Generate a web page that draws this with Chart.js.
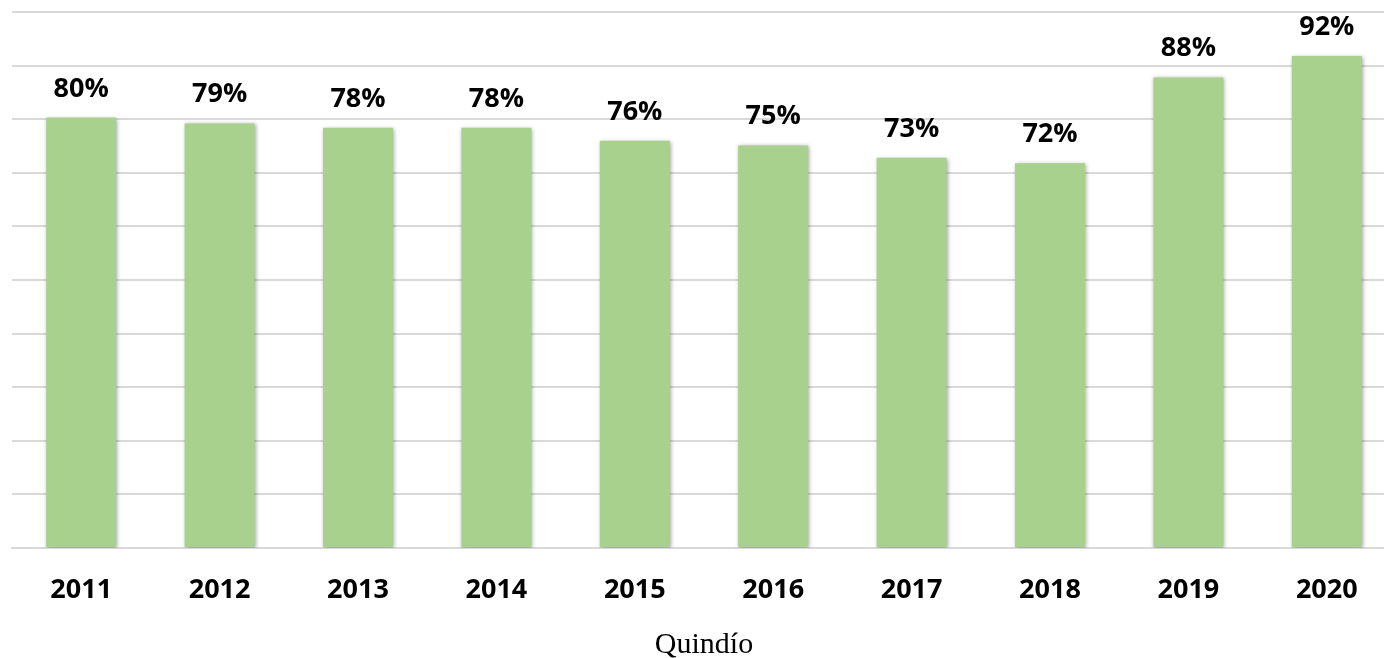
<!DOCTYPE html>
<html>
<head>
<meta charset="utf-8">
<script src="https://cdn.jsdelivr.net/npm/chart.js@4"></script>
<style>
    html, body { margin: 0; padding: 0; background: #ffffff; overflow: hidden; }
    #wrap { position: relative; width: 1396px; height: 658px; }
</style>
</head>
<body>
<div id="wrap"><canvas id="graficoQuindio"></canvas></div>
<script>
// Dados
const anos = ['2011', '2012', '2013', '2014', '2015', '2016', '2017', '2018', '2019', '2020'];
const porcentagens = [80.3, 79.2, 78.4, 78.4, 76.0, 75.1, 72.8, 71.8, 87.8, 91.8];
const tituloEixo = 'Quindío';

// sombra das barras
const sombraBarras = {
    id: 'sombraBarras',
    beforeDatasetsDraw(chart) {
        const ctx = chart.ctx;
        ctx.save();
        ctx.shadowColor = 'rgba(0, 0, 0, 0.35)';
        ctx.shadowBlur = 4;
        ctx.shadowOffsetX = 1;
        ctx.shadowOffsetY = 1;
    },
    afterDatasetsDraw(chart) {
        chart.ctx.restore();
    }
};

// rótulos de valor acima das barras
const rotulosValores = {
    id: 'rotulosValores',
    afterDatasetsDraw(chart) {
        const ctx = chart.ctx;
        const meta = chart.getDatasetMeta(0);
        ctx.save();
        ctx.font = 'bold 27px "Open Sans"';
        ctx.fillStyle = '#000000';
        ctx.textAlign = 'center';
        ctx.textBaseline = 'alphabetic';
        meta.data.forEach((bar, i) => {
            const valor = chart.data.datasets[0].data[i];
            ctx.fillText(Math.round(valor) + '%', bar.x, bar.y - 21);
        });
        ctx.restore();
    }
};

const ctx = document.getElementById('graficoQuindio').getContext('2d');
new Chart(ctx, {
    type: 'bar',
    data: {
        labels: anos,
        datasets: [
            {
                data: porcentagens,
                backgroundColor: '#A9D18E',
                borderWidth: 0,
                categoryPercentage: 1,
                barPercentage: 0.506
            }
        ]
    },
    options: {
        responsive: true,
        maintainAspectRatio: false,
        animation: false,
        layout: {
            padding: { top: 12, left: 0, right: 0, bottom: 0 }
        },
        plugins: {
            legend: { display: false },
            title: { display: false },
            tooltip: { enabled: false }
        },
        scales: {
            x: {
                grid: { display: false, drawTicks: false },
                border: { display: true, color: '#D9D9D9', width: 2 },
                ticks: {
                    color: '#000000',
                    padding: 26,
                    font: { family: '"Open Sans"', size: 27, weight: 'bold' }
                },
                title: {
                    display: true,
                    text: tituloEixo,
                    color: '#000000',
                    padding: { top: 0, bottom: 0 },
                    font: { family: '"Liberation Serif"', size: 30, lineHeight: 0.85 }
                },
                afterFit(scale) {
                    scale.height = 110;
                }
            },
            y: {
                min: 0,
                max: 100,
                ticks: { display: false, stepSize: 10 },
                grid: { color: '#D9D9D9', lineWidth: 2, drawTicks: false },
                border: { display: false },
                afterFit(scale) {
                    scale.width = 12;
                }
            }
        }
    },
    plugins: [sombraBarras, rotulosValores]
});
</script>
</body>
</html>
